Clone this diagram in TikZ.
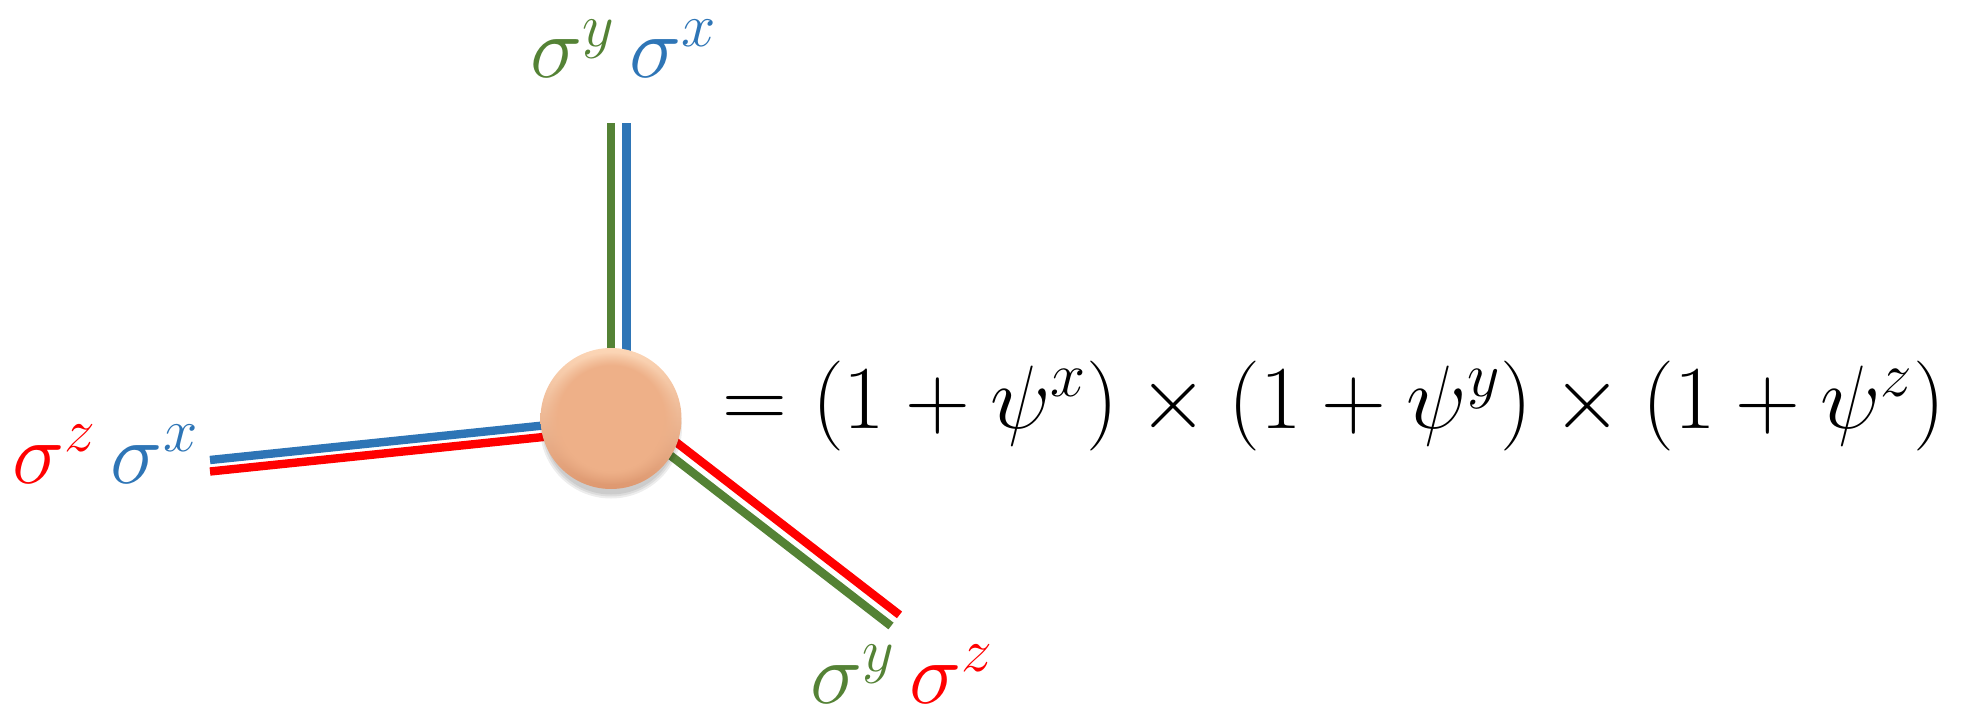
\RequirePackage{fix-cm}
\documentclass[tikz,border=0pt]{standalone}
\usetikzlibrary{calc,fadings,backgrounds}
\definecolor{cgreen}{RGB}{84,130,53}
\definecolor{cblue}{RGB}{46,117,182}
\definecolor{cred}{RGB}{255,0,0}
\definecolor{peach}{RGB}{238,176,136}
\definecolor{peachhi}{RGB}{252,214,182}
\definecolor{peachlo}{RGB}{222,152,112}
\begin{document}
\begin{tikzpicture}[x=0.5pt,y=-0.5pt,
  leg/.style={line width=4.2pt},
  lbl/.style={inner sep=0pt, anchor=base west, font=\fontsize{44}{52}\selectfont},
  eqn/.style={inner sep=0pt, anchor=base west, font=\fontsize{45}{53}\selectfont},
  ball/.style={circle, minimum size=70.5pt, inner sep=0pt, top color=peachhi, bottom color=peachlo}]
\useasboundingbox (0,0) rectangle (1967,727);
\node[ball] (ball) at (611,418.5) {};
\fill[peach, path fading=circle with fuzzy edge 20 percent] (ball.center) circle (66);
\coordinate (topG) at (611,123.5);
\coordinate (topB) at (626.5,123.5);
\coordinate (leftB) at (210,460);
\coordinate (leftR) at (210,471.5);
\coordinate (brG) at (891,626);
\coordinate (brR) at (899.5,614.9);
\begin{scope}[on background layer]
  \draw[leg,cgreen] (topG) -- (ball.center);
  \draw[leg,cblue] (topB) -- ($(ball.center)+(15.5,0)$);
  \draw[leg,cblue] (leftB) -- (ball.center);
  \draw[leg,cred] (leftR) -- ($(ball.center)+(0,11.5)$);
  \draw[leg,cgreen] (brG) -- ($(ball.center)+(0,-9)$);
  \draw[leg,cred] (brR) -- ($(ball.center)+(8.5,-20.1)$);
  \foreach \r in {71,69,67}
    \fill[black, opacity=0.07] ($(ball.center)+(0,9)$) circle (\r);
\end{scope}
\node[lbl] (ltop) at (530,78) {$\color{cgreen}\sigma^{y}\,\color{cblue}\sigma^{x}$};
\node[lbl] (lleft) at (12,483) {$\color{cred}\sigma^{z}\,\color{cblue}\sigma^{x}$};
\node[lbl] (lbr) at (810,703) {$\color{cgreen}\sigma^{y}\,\color{cred}\sigma^{z}$};
\node[eqn] (eq) at (722,429) {$= (1+\psi^{x})\times(1+\psi^{y})\times(1+\psi^{z})$};
\end{tikzpicture}
\end{document}
